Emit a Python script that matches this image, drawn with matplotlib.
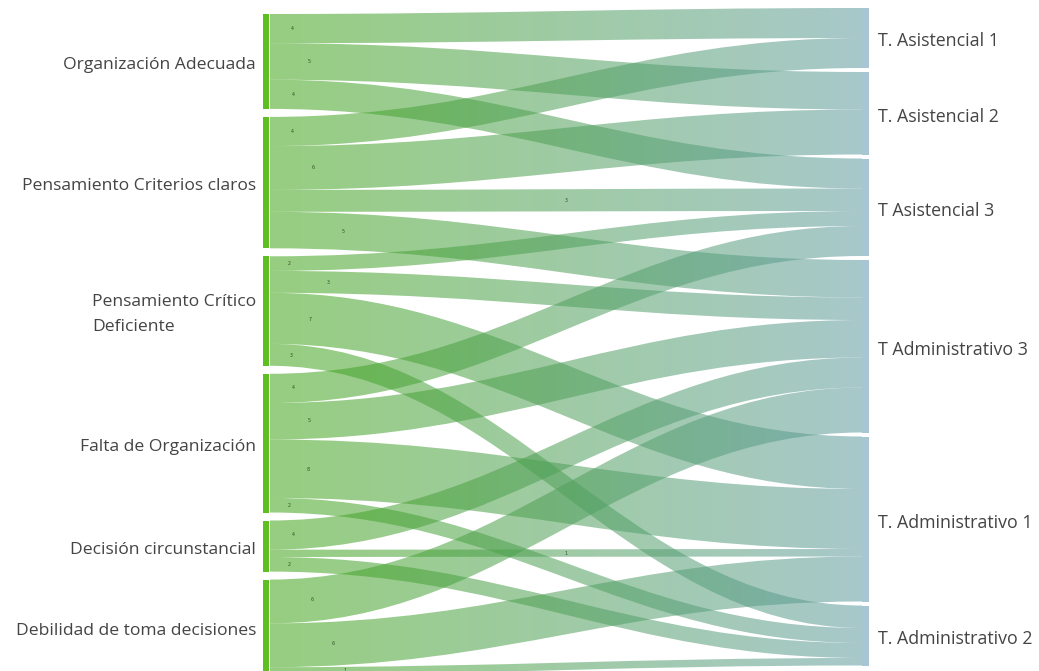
import numpy as np
import matplotlib
matplotlib.use("Agg")
import matplotlib.pyplot as plt
from matplotlib.path import Path
from matplotlib.patches import PathPatch, Rectangle

# ---- data -------------------------------------------------------------
sources = [
    "Organización Adecuada",
    "Pensamiento Criterios claros",
    "Pensamiento Crítico\nDeficiente",
    "Falta de Organización",
    "Decisión circunstancial",
    "Debilidad de toma decisiones",
]
targets = [
    "T. Asistencial 1",
    "T. Asistencial 2",
    "T Asistencial 3",
    "T Administrativo 3",
    "T. Administrativo 1",
    "T. Administrativo 2",
]

link_source = [0, 0, 0, 1, 1, 1, 1, 2, 2, 2, 2, 3, 3, 3, 3, 4, 4, 4, 5, 5, 5]
link_target = [0, 1, 2, 0, 1, 2, 3, 2, 3, 4, 5, 2, 3, 4, 5, 3, 4, 5, 3, 4, 5]
link_value = [4, 5, 4, 4, 6, 3, 5, 2, 3, 7, 3, 4, 5, 8, 2, 4, 1, 2, 6, 6, 1]

# where along each band its small value label sits (fraction of band length)
label_t = [0.037, 0.066, 0.040, 0.037, 0.073, 0.50, 0.123,
           0.032, 0.098, 0.068, 0.036,
           0.040, 0.066, 0.064, 0.032,
           0.040, 0.50, 0.032,
           0.071, 0.106, 0.127]

# ---- layout -------------------------------------------------------------
W, H = 1039, 671
X_LEFT_BAR = (263, 268.5)
X_RIGHT_BAR = (862, 869)
X0, X1 = 270, 862
CURV = 0.4
TEXT_DY = 3.5

src_color = np.array([65, 165, 24]) / 255
dst_color = np.array([96, 156, 158]) / 255
LINK_ALPHA = 0.55
FONT = ["Open Sans", "DejaVu Sans"]


def stack(totals, top, bottom, pad):
    scale = (bottom - top - pad * (len(totals) - 1)) / sum(totals)
    pos = []
    y = top
    for v in totals:
        pos.append(y)
        y += v * scale + pad
    return np.array(pos), scale


src_tot = [sum(v for s, v in zip(link_source, link_value) if s == i) for i in range(len(sources))]
dst_tot = [sum(v for t, v in zip(link_target, link_value) if t == i) for i in range(len(targets))]

src_y, src_k = stack(src_tot, 14, 674.5, 8)
dst_y, dst_k = stack(dst_tot, 8, 665.5, 4)

fig = plt.figure(figsize=(W / 100, H / 100), dpi=100)
ax = fig.add_axes([0, 0, 1, 1])
ax.set_axis_off()

grad = np.linspace(0, 1, 256)[None, :, None]
grad_img = src_color[None, None, :] * (1 - grad) + dst_color[None, None, :] * grad

src_off = list(src_y)
dst_off = list(dst_y)
order = sorted(range(len(link_value)), key=lambda i: (link_source[i], link_target[i]))
link_geom = {}
for i in order:
    s, t, v = link_source[i], link_target[i], link_value[i]
    y0a = src_off[s]; y0b = y0a + v * src_k; src_off[s] = y0b
    link_geom[i] = [y0a, y0b]
order_t = sorted(range(len(link_value)), key=lambda i: (link_target[i], link_source[i]))
for i in order_t:
    t, v = link_target[i], link_value[i]
    y1a = dst_off[t]; y1b = y1a + v * dst_k; dst_off[t] = y1b
    link_geom[i] += [y1a, y1b]


def bez(p0, p1, p2, p3, tt):
    return ((1 - tt) ** 3) * p0 + 3 * ((1 - tt) ** 2) * tt * p1 + 3 * (1 - tt) * tt ** 2 * p2 + tt ** 3 * p3


dx = X1 - X0
for i in range(len(link_value)):
    y0a, y0b, y1a, y1b = link_geom[i]
    verts = [
        (X0, y0a), (X0 + CURV * dx, y0a), (X1 - CURV * dx, y1a), (X1, y1a),
        (X1, y1b), (X1 - CURV * dx, y1b), (X0 + CURV * dx, y0b), (X0, y0b),
        (X0, y0a),
    ]
    codes = [Path.MOVETO, Path.CURVE4, Path.CURVE4, Path.CURVE4,
             Path.LINETO, Path.CURVE4, Path.CURVE4, Path.CURVE4, Path.CLOSEPOLY]
    patch = PathPatch(Path(verts, codes), facecolor="none", edgecolor="none")
    ax.add_patch(patch)
    im = ax.imshow(grad_img, extent=(X0, X1, H + 10, -10), aspect="auto",
                   alpha=LINK_ALPHA, interpolation="bilinear", zorder=1)
    im.set_clip_path(patch)

    # value label on the band centre line
    tt = np.linspace(0, 1, 400)
    xs = bez(X0, X0 + CURV * dx, X1 - CURV * dx, X1, tt)
    yc0 = (y0a + y0b) / 2
    yc1 = (y1a + y1b) / 2
    ys = bez(yc0, yc0, yc1, yc1, tt)
    lx = X0 + label_t[i] * dx
    ly = np.interp(lx, xs, ys)
    ax.text(lx, ly, str(link_value[i]), fontsize=3.4, color="#34502a",
            ha="center", va="center", zorder=3)

# node bars and names
for i, yv in enumerate(src_y):
    ax.add_patch(Rectangle((X_LEFT_BAR[0], yv), X_LEFT_BAR[1] - X_LEFT_BAR[0],
                           src_tot[i] * src_k, facecolor="#5ebf22", edgecolor="none", zorder=2))
    ax.text(256, yv + src_tot[i] * src_k / 2 + TEXT_DY, sources[i], ha="right", va="center",
            multialignment="left", fontsize=12.6, color="#444444",
            family=FONT, linespacing=1.75)
for i, yv in enumerate(dst_y):
    ax.add_patch(Rectangle((X_RIGHT_BAR[0], yv), X_RIGHT_BAR[1] - X_RIGHT_BAR[0],
                           dst_tot[i] * dst_k, facecolor="#a8c5d3", edgecolor="none", zorder=2))
    ax.text(878, yv + dst_tot[i] * dst_k / 2 + TEXT_DY, targets[i], ha="left", va="center",
            fontsize=12.8, color="#444444", family=FONT)

ax.set_xlim(0, W)
ax.set_ylim(H, 0)
fig.savefig("out.png", dpi=100, facecolor="white")
